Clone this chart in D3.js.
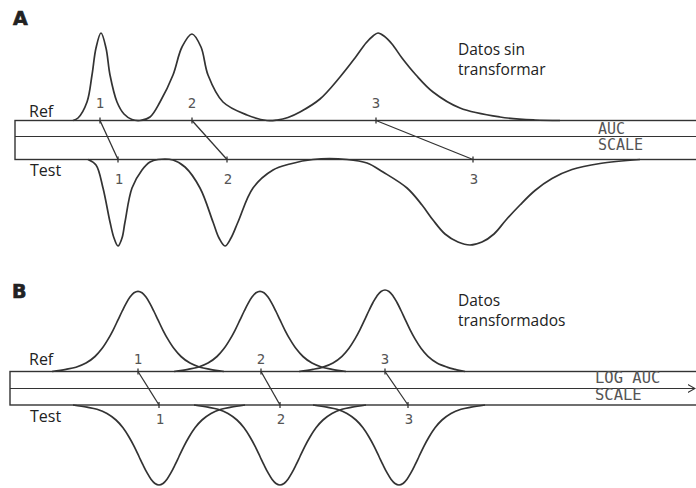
<!DOCTYPE html>
<html>
<head>
<meta charset="utf-8">
<script src="https://cdn.jsdelivr.net/npm/d3@7"></script>
<style>
  html, body { margin: 0; padding: 0; background: #fff; }
  svg { display: block; }
</style>
</head>
<body>
<script>
"use strict";
(function(){
    // curve readings: [position, height], both in tens of pixels of the original drawing
    const refCurveA = [[7.3,0],[7.8,0.25],[8.7,1.85],[9.2,4.55],[9.6,7.25],[10.1,8.75],[10.6,7.25],[11.0,4.55],
        [11.7,1.85],[12.4,0.65],[13.2,0.1],[14.0,0],[15.0,0.35],[16.0,1.85],[17.3,4.55],[18.2,7.35],[19.2,8.65],
        [20.1,7.35],[20.8,4.55],[22.3,1.85],[24.7,0.55],[26.7,0],[27.7,0.05],[28.8,0.3],[30.0,0.85],[32.0,2.15],
        [34.0,4.35],[35.5,6.25],[36.6,7.75],[37.3,8.45],[37.8,8.75],[38.4,8.45],[39.2,7.65],[40.2,6.25],[41.6,4.55],
        [43.3,2.85],[46.0,1.25],[50.0,0.35],[53.5,0.05],[56.0,0]]
    const testCurveA = [[8.8,0],[9.6,0.55],[10.3,2.85],[11.0,6.25],[11.4,7.85],[11.8,8.65],[12.2,7.85],[12.5,6.25],
        [13.2,2.85],[14.2,1.05],[15.0,0.25],[15.8,0],[17.3,0.05],[18.5,0.75],[20.0,2.85],[21.3,6.25],[21.9,7.85],
        [22.5,8.65],[23.1,7.85],[23.8,6.25],[25.3,2.85],[27.3,1.05],[29.0,0.45],[31.3,0],[34.7,0],[36.7,0.35],
        [38.3,1.25],[40.7,2.85],[42.2,4.55],[43.3,6.05],[44.5,7.45],[45.8,8.25],[47.0,8.55],[48.2,8.25],[49.4,7.45],
        [50.6,6.05],[52.0,4.55],[53.5,3.1],[55.2,1.9],[57.2,1.0],[60.0,0.4],[64.0,0]]

    const refPeaksB = [
        [[5.2,0],[6.6,0.22],[7.6,0.43],[8.6,0.84],[9.5,1.5],[10.2,2.29],[10.8,3.21],[11.3,4.12],[11.8,5.16],[12.2,6.0],
         [12.6,6.79],[13.0,7.44],[13.4,7.87],[13.8,8.02],[14.2,7.87],[14.6,7.44],[15.0,6.79],[15.4,6.0],[15.8,5.16],
         [16.3,4.12],[16.8,3.21],[17.4,2.29],[18.1,1.5],[19.0,0.84],[20.0,0.43],[21.0,0.22],[22.4,0]],
        [[17.4,0],[18.8,0.22],[19.8,0.43],[20.8,0.84],[21.7,1.5],[22.4,2.29],[23.0,3.21],[23.5,4.12],[24.0,5.16],[24.4,6.0],
         [24.8,6.79],[25.2,7.44],[25.6,7.87],[26.0,8.02],[26.4,7.87],[26.8,7.44],[27.2,6.79],[27.6,6.0],[28.0,5.16],
         [28.5,4.12],[29.0,3.21],[29.6,2.29],[30.3,1.5],[31.2,0.84],[32.2,0.43],[33.2,0.22],[34.6,0]],
        [[29.9,0],[31.3,0.22],[32.3,0.44],[33.3,0.85],[34.2,1.52],[34.9,2.33],[35.5,3.26],[36.0,4.19],[36.5,5.24],[36.9,6.1],
         [37.3,6.9],[37.7,7.56],[38.1,8.0],[38.5,8.15],[38.9,8.0],[39.3,7.56],[39.7,6.9],[40.1,6.1],[40.5,5.24],
         [41.0,4.19],[41.5,3.26],[42.1,2.33],[42.8,1.52],[43.7,0.85],[44.7,0.44],[45.5,0.22],[46.5,0]]
    ]
    const testPeaksB = [
        [[7.3,0],[8.7,0.22],[9.7,0.43],[10.7,0.84],[11.6,1.5],[12.3,2.28],[12.9,3.2],[13.4,4.11],[13.9,5.15],[14.3,5.99],
         [14.7,6.77],[15.1,7.42],[15.5,7.85],[15.9,8.0],[16.3,7.85],[16.7,7.42],[17.1,6.77],[17.5,5.99],[17.9,5.15],
         [18.4,4.11],[18.9,3.2],[19.5,2.28],[20.2,1.5],[21.1,0.84],[22.1,0.43],[23.1,0.22],[24.5,0]],
        [[19.4,0],[20.8,0.22],[21.8,0.43],[22.8,0.84],[23.7,1.5],[24.4,2.28],[25.0,3.2],[25.5,4.11],[26.0,5.15],[26.4,5.99],
         [26.8,6.77],[27.2,7.42],[27.6,7.85],[28.0,8.0],[28.4,7.85],[28.8,7.42],[29.2,6.77],[29.6,5.99],[30.0,5.15],
         [30.5,4.11],[31.0,3.2],[31.6,2.28],[32.3,1.5],[33.2,0.84],[34.2,0.43],[35.2,0.22],[36.6,0]],
        [[31.3,0],[32.7,0.22],[33.7,0.43],[34.7,0.84],[35.6,1.5],[36.3,2.28],[36.9,3.2],[37.4,4.11],[37.9,5.15],[38.3,5.99],
         [38.7,6.77],[39.1,7.42],[39.5,7.85],[39.9,8.0],[40.3,7.85],[40.7,7.42],[41.1,6.77],[41.5,5.99],[41.9,5.15],
         [42.4,4.11],[42.9,3.2],[43.5,2.28],[44.2,1.5],[45.1,0.84],[46.1,0.43],[47.1,0.22],[48.5,0]]
    ]

    const peakLabels = ["1", "2", "3"]
    const refTicksA = [10.0, 19.2, 37.6]
    const testTicksA = [11.8, 22.7, 47.3]
    const refTicksB = [13.8, 26.1, 38.5]
    const testTicksB = [15.9, 28.0, 40.8]

    const titleA = ["Datos sin", "transformar"]
    const titleB = ["Datos", "transformados"]
    const scaleTextA = ["AUC", "SCALE"]
    const scaleTextB = ["LOG AUC", "SCALE"]

    const measurements = { width: 696, height: 488 }
    const ink = "#333"

    const svg = d3.select("body").append("svg")
        .attr("width", measurements.width)
        .attr("height", measurements.height)

    svg.append("defs").append("marker")
        .attr("id", "arrow")
        .attr("viewBox", "0 0 10 10")
        .attr("refX", 9).attr("refY", 5)
        .attr("markerWidth", 8).attr("markerHeight", 10)
        .attr("markerUnits", "userSpaceOnUse")
        .attr("orient", "auto")
        .append("path")
            .attr("d", "M0,0 L9,5 L0,10")
            .attr("fill", "none")
            .attr("stroke", ink)
            .attr("stroke-width", 1.4)

    function drawPanel(p) {
        const g = svg.append("g")
        const x = d3.scaleLinear().domain([0, 70]).range([0, 700])
        const yRef = d3.scaleLinear().domain([0, 10]).range([p.top, p.top - 100])
        const yTest = d3.scaleLinear().domain([0, 10]).range([p.bottom, p.bottom + 100])

        // band
        g.append("rect")
            .attr("x", p.left).attr("y", p.top)
            .attr("width", 760 - p.left).attr("height", p.bottom - p.top)
            .attr("fill", "none").attr("stroke", ink).attr("stroke-width", 1.4)
        g.append("line")
            .attr("x1", p.left).attr("x2", p.arrow ? 695 : 760)
            .attr("y1", p.mid).attr("y2", p.mid)
            .attr("stroke", ink).attr("stroke-width", 1.2)
            .attr("marker-end", p.arrow ? "url(#arrow)" : null)

        const smooth = d3.curveCatmullRom.alpha(0.5)
        const lineRef = d3.line().x(d => x(d[0])).y(d => Math.min(p.top, yRef(d[1]))).curve(smooth)
        const lineTest = d3.line().x(d => x(d[0])).y(d => yTest(d[1])).curve(smooth)

        g.selectAll(".ref").data(p.ref).enter().append("path")
            .attr("class", "ref")
            .attr("d", lineRef)
            .attr("fill", "none").attr("stroke", ink).attr("stroke-width", 1.7)
        g.selectAll(".test").data(p.test).enter().append("path")
            .attr("class", "test")
            .attr("d", lineTest)
            .attr("fill", "none").attr("stroke", ink).attr("stroke-width", 1.7)

        // connectors between matching peaks
        const pairs = p.refTicks.map((r, i) => ({ r: r, t: p.testTicks[i], label: peakLabels[i] }))
        g.selectAll(".conn").data(pairs).enter().append("line")
            .attr("x1", d => x(d.r)).attr("y1", p.top)
            .attr("x2", d => x(d.t)).attr("y2", p.bottom)
            .attr("stroke", ink).attr("stroke-width", 1.3)
        g.selectAll(".rtick").data(pairs).enter().append("line")
            .attr("x1", d => x(d.r)).attr("x2", d => x(d.r))
            .attr("y1", p.top - 3).attr("y2", p.top + 3)
            .attr("stroke", ink).attr("stroke-width", 1.3)
        g.selectAll(".ttick").data(pairs).enter().append("line")
            .attr("x1", d => x(d.t)).attr("x2", d => x(d.t))
            .attr("y1", p.bottom - 3).attr("y2", p.bottom + 3)
            .attr("stroke", ink).attr("stroke-width", 1.3)

        g.selectAll(".rlab").data(pairs).enter().append("text")
            .attr("x", d => x(d.r)).attr("y", p.top + p.refLabelDy)
            .attr("text-anchor", "middle")
            .style("font", "14px 'DejaVu Sans Mono'").attr("fill", "#555")
            .text(d => d.label)
        g.selectAll(".tlab").data(pairs).enter().append("text")
            .attr("x", d => x(d.t) + 1).attr("y", p.bottom + p.testLabelDy)
            .attr("text-anchor", "middle")
            .style("font", "14px 'DejaVu Sans Mono'").attr("fill", "#555")
            .text(d => d.label)

        // texts
        g.append("text").attr("x", p.letterX).attr("y", p.letterY)
            .style("font", "bold 19px 'DejaVu Sans'").attr("fill", "#222")
            .attr("stroke", "#222").attr("stroke-width", 0.7)
            .text(p.letter)
        g.append("text").attr("x", 29).attr("y", p.refY)
            .style("font", "16px 'Open Sans'").attr("fill", "#222").text("Ref")
        g.append("text").attr("x", 30).attr("y", p.testY)
            .style("font", "16px 'Open Sans'").attr("fill", "#222").text("Test")

        g.selectAll(".title").data(p.title).enter().append("text")
            .attr("x", 458).attr("y", (d, i) => p.titleY + i * 20)
            .style("font", "15.5px 'Open Sans'").attr("fill", "#222")
            .text(d => d)
        g.selectAll(".scl").data(p.scaleText).enter().append("text")
            .attr("x", p.scaleX).attr("y", (d, i) => p.scaleY + i * 16.5)
            .style("font", p.scaleFont).attr("fill", "#555")
            .text(d => d)
    }

    drawPanel({
        letter: "A", letterX: 13, letterY: 25,
        left: 15, top: 120.5, mid: 136.5, bottom: 159.5, arrow: false,
        ref: [refCurveA], test: [testCurveA],
        refTicks: refTicksA, testTicks: testTicksA,
        refLabelDy: -13, testLabelDy: 24,
        refY: 117, testY: 176,
        title: titleA, titleY: 55,
        scaleText: scaleTextA, scaleX: 598, scaleY: 133.5, scaleFont: "15px 'DejaVu Sans Mono'"
    })

    drawPanel({
        letter: "B", letterX: 12, letterY: 298,
        left: 10, top: 371.5, mid: 388.5, bottom: 405, arrow: true,
        ref: refPeaksB, test: testPeaksB,
        refTicks: refTicksB, testTicks: testTicksB,
        refLabelDy: -8, testLabelDy: 19,
        refY: 365, testY: 422,
        title: titleB, titleY: 306,
        scaleText: scaleTextB, scaleX: 595, scaleY: 383, scaleFont: "15.5px 'DejaVu Sans Mono'"
    })
})()
</script>
</body>
</html>
